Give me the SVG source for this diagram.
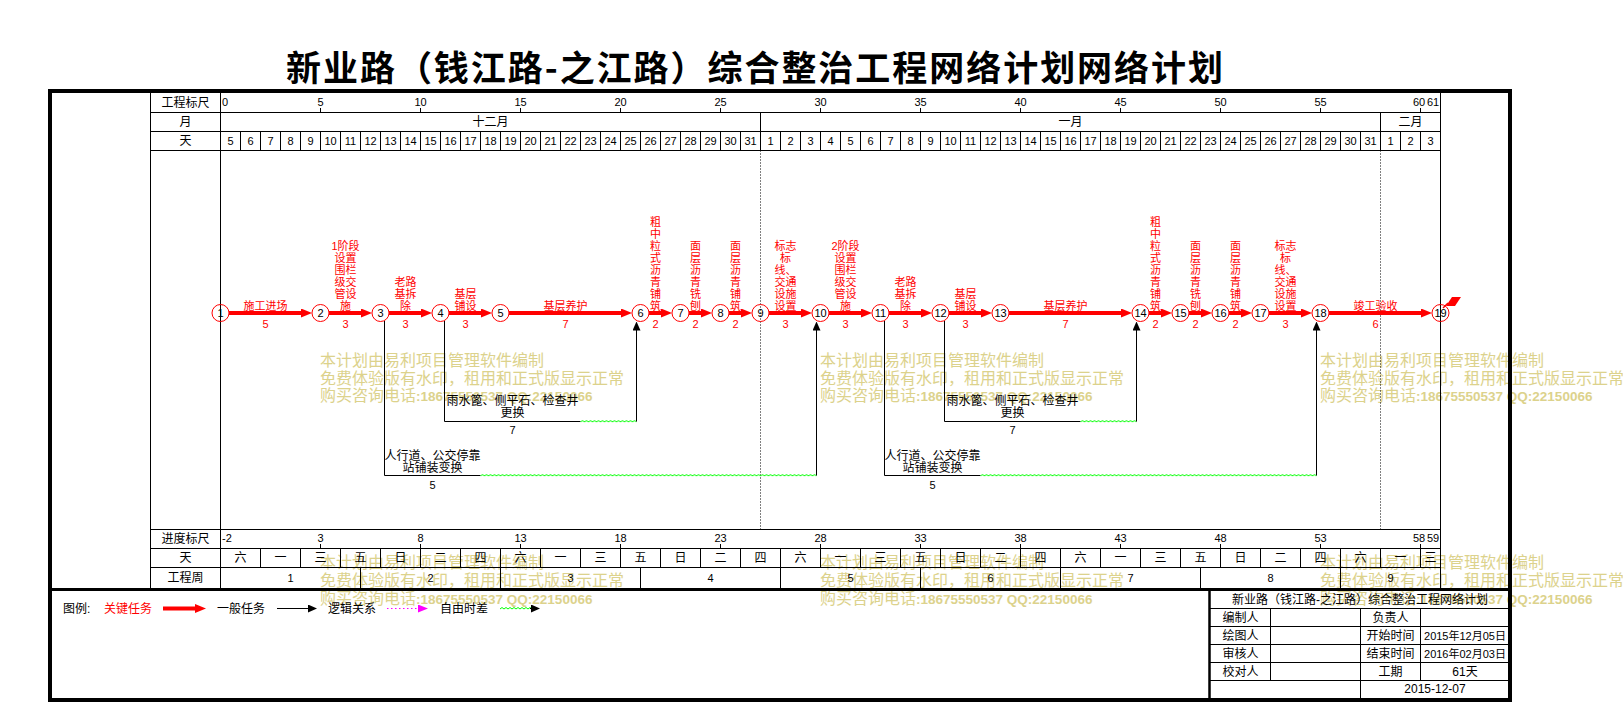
<svg xmlns="http://www.w3.org/2000/svg" width="1623" height="705" viewBox="0 0 1623 705">
<defs>
<style>
text{font-family:"Liberation Sans","Noto Sans CJK SC",sans-serif;font-size:12px;fill:#000}
.m{text-anchor:middle}
.d{font-size:11px}
.r{fill:#f00;font-size:11px}
.ln{stroke:#000;stroke-width:1;fill:none}
.dot{stroke:#000;stroke-width:1;fill:none;stroke-dasharray:1 2}
.crit{stroke:#f00;stroke-width:4;fill:none;marker-end:url(#ahr)}
.dep{stroke:#000;stroke-width:1;fill:none}
.up{stroke:#000;stroke-width:1;fill:none;marker-end:url(#ahb)}
.node circle{fill:none;stroke:#f00;stroke-width:1}
.wm text{font-family:"Noto Sans CJK SC",sans-serif;font-size:16px;fill:#dcd28c}
.wm tspan{font-family:"Liberation Sans",sans-serif;font-weight:bold;font-size:13.5px;fill:#dcd28c}
.tb{font-size:11px}
</style>
<marker id="ahr" markerUnits="userSpaceOnUse" markerWidth="11" markerHeight="9" refX="3" refY="4.5" orient="auto"><path d="M0,0L11,4.5L0,9z" fill="#f00"/></marker>
<marker id="ahb" markerUnits="userSpaceOnUse" markerWidth="9" markerHeight="8" refX="1" refY="4" orient="auto"><path d="M0,0L9,4L0,8z" fill="#000"/></marker>
<marker id="ahm" markerUnits="userSpaceOnUse" markerWidth="10" markerHeight="8" refX="2" refY="4" orient="auto"><path d="M0,0L10,4L0,8z" fill="#f0f"/></marker>
<pattern id="wave" width="4" height="4" patternUnits="userSpaceOnUse"><path d="M0,3Q2,0 4,3" fill="none" stroke="#0f0" stroke-width="1"/></pattern>
</defs>
<rect x="0" y="0" width="1623" height="705" fill="#fff"/>

<g id="watermarks" class="wm">
<text x="320" y="366">本计划由易利项目管理软件编制</text>
<text x="320" y="383.5">免费体验版有水印，租用和正式版显示正常</text>
<text x="320" y="401">购买咨询电话<tspan>:18675550537 QQ:22150066</tspan></text>
<text x="820" y="366">本计划由易利项目管理软件编制</text>
<text x="820" y="383.5">免费体验版有水印，租用和正式版显示正常</text>
<text x="820" y="401">购买咨询电话<tspan>:18675550537 QQ:22150066</tspan></text>
<text x="1320" y="366">本计划由易利项目管理软件编制</text>
<text x="1320" y="383.5">免费体验版有水印，租用和正式版显示正常</text>
<text x="1320" y="401">购买咨询电话<tspan>:18675550537 QQ:22150066</tspan></text>
<text x="320" y="567.5">本计划由易利项目管理软件编制</text>
<text x="320" y="586">免费体验版有水印，租用和正式版显示正常</text>
<text x="320" y="603.5">购买咨询电话<tspan>:18675550537 QQ:22150066</tspan></text>
<text x="820" y="567.5">本计划由易利项目管理软件编制</text>
<text x="820" y="586">免费体验版有水印，租用和正式版显示正常</text>
<text x="820" y="603.5">购买咨询电话<tspan>:18675550537 QQ:22150066</tspan></text>
<text x="1320" y="567.5">本计划由易利项目管理软件编制</text>
<text x="1320" y="586">免费体验版有水印，租用和正式版显示正常</text>
<text x="1320" y="603.5">购买咨询电话<tspan>:18675550537 QQ:22150066</tspan></text>
</g>

<text id="title" x="286" y="81" textLength="937" lengthAdjust="spacing" style="font-family:'Noto Sans CJK SC',sans-serif;font-size:35px;font-weight:bold">新业路（钱江路-之江路）综合整治工程网络计划网络计划</text>

<g id="frame">
<rect x="50" y="91" width="1460" height="609" fill="none" stroke="#000" stroke-width="4"/>
<path d="M48,589.5H1512" stroke="#000" stroke-width="3"/>
</g>

<g id="header-scale">
<path class="ln" d="M150.5,93V588M220.5,93V588M1440.5,93V588M150.5,112.5H1440.5M150.5,131.5H1440.5M150.5,150.5H1440.5M760.5,112.5V131.5M1380.5,112.5V131.5"/>
<path class="ln" d="M320.5,108V112.5M420.5,108V112.5M520.5,108V112.5M620.5,108V112.5M720.5,108V112.5M820.5,108V112.5M920.5,108V112.5M1020.5,108V112.5M1120.5,108V112.5M1220.5,108V112.5M1320.5,108V112.5M1420.5,108V112.5"/>
<path class="ln" d="M240.5,131.5v19M260.5,131.5v19M280.5,131.5v19M300.5,131.5v19M320.5,131.5v19M340.5,131.5v19M360.5,131.5v19M380.5,131.5v19M400.5,131.5v19M420.5,131.5v19M440.5,131.5v19M460.5,131.5v19M480.5,131.5v19M500.5,131.5v19M520.5,131.5v19M540.5,131.5v19M560.5,131.5v19M580.5,131.5v19M600.5,131.5v19M620.5,131.5v19M640.5,131.5v19M660.5,131.5v19M680.5,131.5v19M700.5,131.5v19M720.5,131.5v19M740.5,131.5v19M760.5,131.5v19M780.5,131.5v19M800.5,131.5v19M820.5,131.5v19M840.5,131.5v19M860.5,131.5v19M880.5,131.5v19M900.5,131.5v19M920.5,131.5v19M940.5,131.5v19M960.5,131.5v19M980.5,131.5v19M1000.5,131.5v19M1020.5,131.5v19M1040.5,131.5v19M1060.5,131.5v19M1080.5,131.5v19M1100.5,131.5v19M1120.5,131.5v19M1140.5,131.5v19M1160.5,131.5v19M1180.5,131.5v19M1200.5,131.5v19M1220.5,131.5v19M1240.5,131.5v19M1260.5,131.5v19M1280.5,131.5v19M1300.5,131.5v19M1320.5,131.5v19M1340.5,131.5v19M1360.5,131.5v19M1380.5,131.5v19M1400.5,131.5v19M1420.5,131.5v19"/>
<text class="m" x="185.5" y="107">工程标尺</text>
<text class="m" x="185.5" y="126">月</text>
<text class="m" x="185.5" y="145">天</text>
<text class="d" x="222" y="106">0</text>
<text class="m d" x="320.5" y="106">5</text><text class="m d" x="420.5" y="106">10</text><text class="m d" x="520.5" y="106">15</text><text class="m d" x="620.5" y="106">20</text><text class="m d" x="720.5" y="106">25</text><text class="m d" x="820.5" y="106">30</text><text class="m d" x="920.5" y="106">35</text><text class="m d" x="1020.5" y="106">40</text><text class="m d" x="1120.5" y="106">45</text><text class="m d" x="1220.5" y="106">50</text><text class="m d" x="1320.5" y="106">55</text><text class="m d" x="1419" y="106">60</text><text class="m d" x="1433" y="106">61</text>
<text class="m" x="490.5" y="126">十二月</text>
<text class="m" x="1070.5" y="126">一月</text>
<text class="m" x="1410.5" y="126">二月</text>
<text class="m d" x="230.5" y="144.5">5</text><text class="m d" x="250.5" y="144.5">6</text><text class="m d" x="270.5" y="144.5">7</text><text class="m d" x="290.5" y="144.5">8</text><text class="m d" x="310.5" y="144.5">9</text><text class="m d" x="330.5" y="144.5">10</text><text class="m d" x="350.5" y="144.5">11</text><text class="m d" x="370.5" y="144.5">12</text><text class="m d" x="390.5" y="144.5">13</text><text class="m d" x="410.5" y="144.5">14</text><text class="m d" x="430.5" y="144.5">15</text><text class="m d" x="450.5" y="144.5">16</text><text class="m d" x="470.5" y="144.5">17</text><text class="m d" x="490.5" y="144.5">18</text><text class="m d" x="510.5" y="144.5">19</text><text class="m d" x="530.5" y="144.5">20</text><text class="m d" x="550.5" y="144.5">21</text><text class="m d" x="570.5" y="144.5">22</text><text class="m d" x="590.5" y="144.5">23</text><text class="m d" x="610.5" y="144.5">24</text><text class="m d" x="630.5" y="144.5">25</text><text class="m d" x="650.5" y="144.5">26</text><text class="m d" x="670.5" y="144.5">27</text><text class="m d" x="690.5" y="144.5">28</text><text class="m d" x="710.5" y="144.5">29</text><text class="m d" x="730.5" y="144.5">30</text><text class="m d" x="750.5" y="144.5">31</text>
<text class="m d" x="770.5" y="144.5">1</text><text class="m d" x="790.5" y="144.5">2</text><text class="m d" x="810.5" y="144.5">3</text><text class="m d" x="830.5" y="144.5">4</text><text class="m d" x="850.5" y="144.5">5</text><text class="m d" x="870.5" y="144.5">6</text><text class="m d" x="890.5" y="144.5">7</text><text class="m d" x="910.5" y="144.5">8</text><text class="m d" x="930.5" y="144.5">9</text><text class="m d" x="950.5" y="144.5">10</text><text class="m d" x="970.5" y="144.5">11</text><text class="m d" x="990.5" y="144.5">12</text><text class="m d" x="1010.5" y="144.5">13</text><text class="m d" x="1030.5" y="144.5">14</text><text class="m d" x="1050.5" y="144.5">15</text><text class="m d" x="1070.5" y="144.5">16</text><text class="m d" x="1090.5" y="144.5">17</text><text class="m d" x="1110.5" y="144.5">18</text><text class="m d" x="1130.5" y="144.5">19</text><text class="m d" x="1150.5" y="144.5">20</text><text class="m d" x="1170.5" y="144.5">21</text><text class="m d" x="1190.5" y="144.5">22</text><text class="m d" x="1210.5" y="144.5">23</text><text class="m d" x="1230.5" y="144.5">24</text><text class="m d" x="1250.5" y="144.5">25</text><text class="m d" x="1270.5" y="144.5">26</text><text class="m d" x="1290.5" y="144.5">27</text><text class="m d" x="1310.5" y="144.5">28</text><text class="m d" x="1330.5" y="144.5">29</text><text class="m d" x="1350.5" y="144.5">30</text><text class="m d" x="1370.5" y="144.5">31</text>
<text class="m d" x="1390.5" y="144.5">1</text><text class="m d" x="1410.5" y="144.5">2</text><text class="m d" x="1430.5" y="144.5">3</text>
</g>

<g id="month-dividers">
<path class="dot" d="M760.5,150.5V529.5M1380.5,150.5V529.5"/>
</g>

<g id="bottom-scale">
<path class="ln" d="M150.5,529.5H1440.5M150.5,548.5H1440.5M150.5,567.5H1440.5"/>
<path class="ln" d="M320.5,544V548.5M420.5,544V548.5M520.5,544V548.5M620.5,544V548.5M720.5,544V548.5M820.5,544V548.5M920.5,544V548.5M1020.5,544V548.5M1120.5,544V548.5M1220.5,544V548.5M1320.5,544V548.5M1420.5,544V548.5"/>
<path class="ln" d="M260.5,548.5v19M300.5,548.5v19M340.5,548.5v19M380.5,548.5v19M420.5,548.5v19M460.5,548.5v19M500.5,548.5v19M540.5,548.5v19M580.5,548.5v19M620.5,548.5v19M660.5,548.5v19M700.5,548.5v19M740.5,548.5v19M780.5,548.5v19M820.5,548.5v19M860.5,548.5v19M900.5,548.5v19M940.5,548.5v19M980.5,548.5v19M1020.5,548.5v19M1060.5,548.5v19M1100.5,548.5v19M1140.5,548.5v19M1180.5,548.5v19M1220.5,548.5v19M1260.5,548.5v19M1300.5,548.5v19M1340.5,548.5v19M1380.5,548.5v19M1420.5,548.5v19"/>
<path class="ln" d="M360.5,567.5V588M500.5,567.5V588M640.5,567.5V588M780.5,567.5V588M920.5,567.5V588M1060.5,567.5V588M1200.5,567.5V588M1340.5,567.5V588"/>
<text class="m" x="185.5" y="543">进度标尺</text>
<text class="m" x="185.5" y="562">天</text>
<text class="m" x="185.5" y="582">工程周</text>
<text class="d" x="222" y="542.3">-2</text>
<text class="m d" x="320.5" y="542.3">3</text><text class="m d" x="420.5" y="542.3">8</text><text class="m d" x="520.5" y="542.3">13</text><text class="m d" x="620.5" y="542.3">18</text><text class="m d" x="720.5" y="542.3">23</text><text class="m d" x="820.5" y="542.3">28</text><text class="m d" x="920.5" y="542.3">33</text><text class="m d" x="1020.5" y="542.3">38</text><text class="m d" x="1120.5" y="542.3">43</text><text class="m d" x="1220.5" y="542.3">48</text><text class="m d" x="1320.5" y="542.3">53</text><text class="m d" x="1419" y="542.3">58</text><text class="m d" x="1433" y="542.3">59</text>
<text class="m" x="240.5" y="562">六</text><text class="m" x="280.5" y="562">一</text><text class="m" x="320.5" y="562">三</text><text class="m" x="360.5" y="562">五</text><text class="m" x="400.5" y="562">日</text><text class="m" x="440.5" y="562">二</text><text class="m" x="480.5" y="562">四</text><text class="m" x="520.5" y="562">六</text><text class="m" x="560.5" y="562">一</text><text class="m" x="600.5" y="562">三</text><text class="m" x="640.5" y="562">五</text><text class="m" x="680.5" y="562">日</text><text class="m" x="720.5" y="562">二</text><text class="m" x="760.5" y="562">四</text><text class="m" x="800.5" y="562">六</text><text class="m" x="840.5" y="562">一</text><text class="m" x="880.5" y="562">三</text><text class="m" x="920.5" y="562">五</text><text class="m" x="960.5" y="562">日</text><text class="m" x="1000.5" y="562">二</text><text class="m" x="1040.5" y="562">四</text><text class="m" x="1080.5" y="562">六</text><text class="m" x="1120.5" y="562">一</text><text class="m" x="1160.5" y="562">三</text><text class="m" x="1200.5" y="562">五</text><text class="m" x="1240.5" y="562">日</text><text class="m" x="1280.5" y="562">二</text><text class="m" x="1320.5" y="562">四</text><text class="m" x="1360.5" y="562">六</text><text class="m" x="1400.5" y="562">一</text><text class="m" x="1430.5" y="562">三</text>
<text class="m d" x="290.5" y="581.5">1</text><text class="m d" x="430.5" y="581.5">2</text><text class="m d" x="570.5" y="581.5">3</text><text class="m d" x="710.5" y="581.5">4</text><text class="m d" x="850.5" y="581.5">5</text><text class="m d" x="990.5" y="581.5">6</text><text class="m d" x="1130.5" y="581.5">7</text><text class="m d" x="1270.5" y="581.5">8</text><text class="m d" x="1390.5" y="581.5">9</text>
</g>

<g id="connectors">
<g id="a1-2"><path class="crit" d="M229,313H304"/><text class="m r" x="265.5" y="309.5">施工进场</text><text class="m r" x="265.5" y="327.5">5</text></g>
<g id="a2-3"><path class="crit" d="M329,313H364"/><text class="m r" x="345.5" y="249.5"><tspan x="345.5">1阶段</tspan><tspan x="345.5" dy="12">设置</tspan><tspan x="345.5" dy="12">围栏</tspan><tspan x="345.5" dy="12">级交</tspan><tspan x="345.5" dy="12">管设</tspan><tspan x="345.5" dy="12">施</tspan></text><text class="m r" x="345.5" y="327.5">3</text></g>
<g id="a3-4"><path class="crit" d="M389,313H424"/><text class="m r" x="405.5" y="285.5"><tspan x="405.5">老路</tspan><tspan x="405.5" dy="12">基拆</tspan><tspan x="405.5" dy="12">除</tspan></text><text class="m r" x="405.5" y="327.5">3</text></g>
<g id="a4-5"><path class="crit" d="M449,313H484"/><text class="m r" x="465.5" y="297.5"><tspan x="465.5">基层</tspan><tspan x="465.5" dy="12">铺设</tspan></text><text class="m r" x="465.5" y="327.5">3</text></g>
<g id="a5-6"><path class="crit" d="M509,313H624"/><text class="m r" x="565.5" y="309.5">基层养护</text><text class="m r" x="565.5" y="327.5">7</text></g>
<g id="a6-7"><path class="crit" d="M649,313H664"/><text class="m r" x="655.5" y="225.5"><tspan x="655.5">粗</tspan><tspan x="655.5" dy="12">中</tspan><tspan x="655.5" dy="12">粒</tspan><tspan x="655.5" dy="12">式</tspan><tspan x="655.5" dy="12">沥</tspan><tspan x="655.5" dy="12">青</tspan><tspan x="655.5" dy="12">铺</tspan><tspan x="655.5" dy="12">筑</tspan></text><text class="m r" x="655.5" y="327.5">2</text></g>
<g id="a7-8"><path class="crit" d="M689,313H704"/><text class="m r" x="695.5" y="249.5"><tspan x="695.5">面</tspan><tspan x="695.5" dy="12">层</tspan><tspan x="695.5" dy="12">沥</tspan><tspan x="695.5" dy="12">青</tspan><tspan x="695.5" dy="12">铣</tspan><tspan x="695.5" dy="12">刨</tspan></text><text class="m r" x="695.5" y="327.5">2</text></g>
<g id="a8-9"><path class="crit" d="M729,313H744"/><text class="m r" x="735.5" y="249.5"><tspan x="735.5">面</tspan><tspan x="735.5" dy="12">层</tspan><tspan x="735.5" dy="12">沥</tspan><tspan x="735.5" dy="12">青</tspan><tspan x="735.5" dy="12">铺</tspan><tspan x="735.5" dy="12">筑</tspan></text><text class="m r" x="735.5" y="327.5">2</text></g>
<g id="a9-10"><path class="crit" d="M769,313H804"/><text class="m r" x="785.5" y="249.5"><tspan x="785.5">标志</tspan><tspan x="785.5" dy="12">标</tspan><tspan x="785.5" dy="12">线、</tspan><tspan x="785.5" dy="12">交通</tspan><tspan x="785.5" dy="12">设施</tspan><tspan x="785.5" dy="12">设置</tspan></text><text class="m r" x="785.5" y="327.5">3</text></g>
<g id="a10-11"><path class="crit" d="M829,313H864"/><text class="m r" x="845.5" y="249.5"><tspan x="845.5">2阶段</tspan><tspan x="845.5" dy="12">设置</tspan><tspan x="845.5" dy="12">围栏</tspan><tspan x="845.5" dy="12">级交</tspan><tspan x="845.5" dy="12">管设</tspan><tspan x="845.5" dy="12">施</tspan></text><text class="m r" x="845.5" y="327.5">3</text></g>
<g id="a11-12"><path class="crit" d="M889,313H924"/><text class="m r" x="905.5" y="285.5"><tspan x="905.5">老路</tspan><tspan x="905.5" dy="12">基拆</tspan><tspan x="905.5" dy="12">除</tspan></text><text class="m r" x="905.5" y="327.5">3</text></g>
<g id="a12-13"><path class="crit" d="M949,313H984"/><text class="m r" x="965.5" y="297.5"><tspan x="965.5">基层</tspan><tspan x="965.5" dy="12">铺设</tspan></text><text class="m r" x="965.5" y="327.5">3</text></g>
<g id="a13-14"><path class="crit" d="M1009,313H1124"/><text class="m r" x="1065.5" y="309.5">基层养护</text><text class="m r" x="1065.5" y="327.5">7</text></g>
<g id="a14-15"><path class="crit" d="M1149,313H1164"/><text class="m r" x="1155.5" y="225.5"><tspan x="1155.5">粗</tspan><tspan x="1155.5" dy="12">中</tspan><tspan x="1155.5" dy="12">粒</tspan><tspan x="1155.5" dy="12">式</tspan><tspan x="1155.5" dy="12">沥</tspan><tspan x="1155.5" dy="12">青</tspan><tspan x="1155.5" dy="12">铺</tspan><tspan x="1155.5" dy="12">筑</tspan></text><text class="m r" x="1155.5" y="327.5">2</text></g>
<g id="a15-16"><path class="crit" d="M1189,313H1204"/><text class="m r" x="1195.5" y="249.5"><tspan x="1195.5">面</tspan><tspan x="1195.5" dy="12">层</tspan><tspan x="1195.5" dy="12">沥</tspan><tspan x="1195.5" dy="12">青</tspan><tspan x="1195.5" dy="12">铣</tspan><tspan x="1195.5" dy="12">刨</tspan></text><text class="m r" x="1195.5" y="327.5">2</text></g>
<g id="a16-17"><path class="crit" d="M1229,313H1244"/><text class="m r" x="1235.5" y="249.5"><tspan x="1235.5">面</tspan><tspan x="1235.5" dy="12">层</tspan><tspan x="1235.5" dy="12">沥</tspan><tspan x="1235.5" dy="12">青</tspan><tspan x="1235.5" dy="12">铺</tspan><tspan x="1235.5" dy="12">筑</tspan></text><text class="m r" x="1235.5" y="327.5">2</text></g>
<g id="a17-18"><path class="crit" d="M1269,313H1304"/><text class="m r" x="1285.5" y="249.5"><tspan x="1285.5">标志</tspan><tspan x="1285.5" dy="12">标</tspan><tspan x="1285.5" dy="12">线、</tspan><tspan x="1285.5" dy="12">交通</tspan><tspan x="1285.5" dy="12">设施</tspan><tspan x="1285.5" dy="12">设置</tspan></text><text class="m r" x="1285.5" y="327.5">3</text></g>
<g id="a18-19"><path class="crit" d="M1329,313H1424"/><text class="m r" x="1375.5" y="309.5">竣工验收</text><text class="m r" x="1375.5" y="327.5">6</text></g>

<g id="a3-10"><path class="dep" d="M384.5,321V475.5H480.5"/><rect x="0" y="0" width="336" height="4" fill="url(#wave)" transform="translate(480.5,473)"/><path class="up" d="M816.5,475.5V329.5"/><text class="m" x="432.5" y="459.5">人行道、公交停靠</text><text class="m" x="432.5" y="471.5">站铺装变换</text><text class="m d" x="432.5" y="489">5</text></g>
<g id="a4-6"><path class="dep" d="M444.5,321V421.5H580.5"/><rect x="0" y="0" width="56" height="4" fill="url(#wave)" transform="translate(580.5,419)"/><path class="up" d="M636.5,421.5V329.5"/><text class="m" x="512.5" y="404.5">雨水篦、侧平石、检查井</text><text class="m" x="512.5" y="417">更换</text><text class="m d" x="512.5" y="434">7</text></g>
<g id="a11-18"><path class="dep" d="M884.5,321V475.5H980.5"/><rect x="0" y="0" width="336" height="4" fill="url(#wave)" transform="translate(980.5,473)"/><path class="up" d="M1316.5,475.5V329.5"/><text class="m" x="932.5" y="459.5">人行道、公交停靠</text><text class="m" x="932.5" y="471.5">站铺装变换</text><text class="m d" x="932.5" y="489">5</text></g>
<g id="a12-14"><path class="dep" d="M944.5,321V421.5H1080.5"/><rect x="0" y="0" width="56" height="4" fill="url(#wave)" transform="translate(1080.5,419)"/><path class="up" d="M1136.5,421.5V329.5"/><text class="m" x="1012.5" y="404.5">雨水篦、侧平石、检查井</text><text class="m" x="1012.5" y="417">更换</text><text class="m d" x="1012.5" y="434">7</text></g>
</g>

<g id="n1" class="node"><circle cx="220.5" cy="313" r="8.5"/><text class="m d" x="220.5" y="317">1</text></g>
<g id="n2" class="node"><circle cx="320.5" cy="313" r="8.5"/><text class="m d" x="320.5" y="317">2</text></g>
<g id="n3" class="node"><circle cx="380.5" cy="313" r="8.5"/><text class="m d" x="380.5" y="317">3</text></g>
<g id="n4" class="node"><circle cx="440.5" cy="313" r="8.5"/><text class="m d" x="440.5" y="317">4</text></g>
<g id="n5" class="node"><circle cx="500.5" cy="313" r="8.5"/><text class="m d" x="500.5" y="317">5</text></g>
<g id="n6" class="node"><circle cx="640.5" cy="313" r="8.5"/><text class="m d" x="640.5" y="317">6</text></g>
<g id="n7" class="node"><circle cx="680.5" cy="313" r="8.5"/><text class="m d" x="680.5" y="317">7</text></g>
<g id="n8" class="node"><circle cx="720.5" cy="313" r="8.5"/><text class="m d" x="720.5" y="317">8</text></g>
<g id="n9" class="node"><circle cx="760.5" cy="313" r="8.5"/><text class="m d" x="760.5" y="317">9</text></g>
<g id="n10" class="node"><circle cx="820.5" cy="313" r="8.5"/><text class="m d" x="820.5" y="317">10</text></g>
<g id="n11" class="node"><circle cx="880.5" cy="313" r="8.5"/><text class="m d" x="880.5" y="317">11</text></g>
<g id="n12" class="node"><circle cx="940.5" cy="313" r="8.5"/><text class="m d" x="940.5" y="317">12</text></g>
<g id="n13" class="node"><circle cx="1000.5" cy="313" r="8.5"/><text class="m d" x="1000.5" y="317">13</text></g>
<g id="n14" class="node"><circle cx="1140.5" cy="313" r="8.5"/><text class="m d" x="1140.5" y="317">14</text></g>
<g id="n15" class="node"><circle cx="1180.5" cy="313" r="8.5"/><text class="m d" x="1180.5" y="317">15</text></g>
<g id="n16" class="node"><circle cx="1220.5" cy="313" r="8.5"/><text class="m d" x="1220.5" y="317">16</text></g>
<g id="n17" class="node"><circle cx="1260.5" cy="313" r="8.5"/><text class="m d" x="1260.5" y="317">17</text></g>
<g id="n18" class="node"><circle cx="1320.5" cy="313" r="8.5"/><text class="m d" x="1320.5" y="317">18</text></g>
<g id="n19" class="node"><circle cx="1440.5" cy="313" r="8.5"/><text class="m d" x="1440.5" y="317">19</text><path d="M1443,308L1448,303" stroke="#f00" stroke-width="1.5"/><polygon points="1452,297 1461,297 1455,306 1446,306" fill="#f00"/></g>

<g id="legend">
<text x="63" y="612.5">图例:</text>
<text x="104" y="612.5" style="fill:#f00">关键任务</text>
<path class="crit" d="M163,608.5H198"/>
<text x="217" y="612.5">一般任务</text>
<path class="up" d="M277,608.5H309"/>
<text x="328" y="612.5">逻辑关系</text>
<path d="M387,608.5H420" stroke="#f0f" stroke-width="1" stroke-dasharray="1.5 2.5" marker-end="url(#ahm)"/>
<text x="440" y="612.5">自由时差</text>
<rect x="0" y="0" width="31" height="4" fill="url(#wave)" transform="translate(500,606)"/>
<path class="up" d="M530,608.5H532"/>
</g>

<g id="title-block">
<path d="M1209.5,589V700" stroke="#000" stroke-width="2.5"/>
<path class="ln" d="M1210,608.5H1510M1210,626.5H1510M1210,644.5H1510M1210,662.5H1510M1210,680.5H1510M1270.5,608.5V680.5M1360.5,608.5V698M1420.5,608.5V680.5"/>
<text class="m" x="1360" y="603.5" style="font-size:12px">新业路（钱江路-之江路）综合整治工程网络计划</text>
<text class="m" x="1240.5" y="621.5">编制人</text><text class="m" x="1390.5" y="621.5">负责人</text>
<text class="m" x="1240.5" y="639.5">绘图人</text><text class="m" x="1390.5" y="639.5">开始时间</text><text class="m tb" x="1465" y="639.5">2015年12月05日</text>
<text class="m" x="1240.5" y="657.5">审核人</text><text class="m" x="1390.5" y="657.5">结束时间</text><text class="m tb" x="1465" y="657.5">2016年02月03日</text>
<text class="m" x="1240.5" y="675.5">校对人</text><text class="m" x="1390.5" y="675.5">工期</text><text class="m" x="1465" y="675.5">61天</text>
<text class="m" x="1435" y="693">2015-12-07</text>
</g>
</svg>
